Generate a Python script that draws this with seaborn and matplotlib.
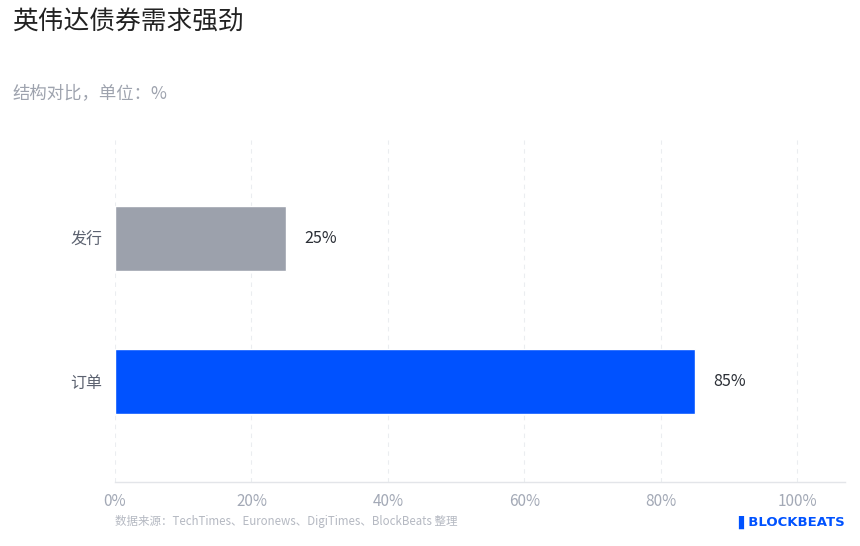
import matplotlib
matplotlib.use("Agg")
import matplotlib.pyplot as plt
import seaborn as sns
import pandas as pd

categories = ["发行", "订单"]
values = [25, 85]
bar_colors = ["#9ca1ac", "#0052ff"]
x_ticks = [0, 20, 40, 60, 80, 100]

title = "英伟达债券需求强劲"
subtitle = "结构对比，单位：%"
source = "数据来源：TechTimes、Euronews、DigiTimes、BlockBeats 整理"

sns.set_theme(style="white")
plt.rcParams['font.family'] = ['Noto Sans CJK SC', 'DejaVu Sans']

df = pd.DataFrame({"cat": categories, "val": values})

fig = plt.figure(figsize=(8.6, 5.46), dpi=100)
ax = fig.add_axes([115 / 860, 1 - 482 / 546, (845 - 115) / 860, (482 - 140) / 546])

sns.barplot(data=df, x="val", y="cat", hue="cat", palette=bar_colors,
            width=0.455, legend=False, ax=ax, saturation=1)

ax.set_xlim(0, 107)
ax.set_ylim(1.70, -0.69)
ax.set_xticks(x_ticks)
ax.set_xticklabels([f"{t}%" for t in x_ticks])
ax.set_xlabel("")
ax.set_ylabel("")
ax.tick_params(axis="x", colors="#a3a9b6", labelsize=11, length=0, pad=8)
ax.tick_params(axis="y", colors="#5c6270", labelsize=11.5, length=0, pad=9)
ax.xaxis.grid(True, linestyle=(0, (4, 4)), color="#ebedf0", linewidth=0.8)
ax.set_axisbelow(True)
for s in ["top", "right", "left"]:
    ax.spines[s].set_visible(False)
ax.spines["bottom"].set_color("#e3e5e9")
ax.spines["bottom"].set_linewidth(1)

for i, v in enumerate(values):
    ax.text(v + 2.7, i, f"{v}%", va="center", ha="left", fontsize=11.5, color="#2b2f36")

fig.text(12 / 860, 1 - 22 / 546, title, fontsize=18.5, color="#222222", va="center", ha="left")
fig.text(12 / 860, 1 - 93 / 546, subtitle, fontsize=12.5, color="#9ea3ae", va="center", ha="left")
fig.text(115 / 860, 1 - 522 / 546, source, fontsize=8.3, color="#b5b9c2", va="center", ha="left")
fig.text(845 / 860, 1 - 522 / 546, "▌BLOCKBEATS", fontsize=9.5, color="#0052ff",
         fontweight="bold", va="center", ha="right", family=['DejaVu Sans'])

fig.savefig("out.png", dpi=100)
